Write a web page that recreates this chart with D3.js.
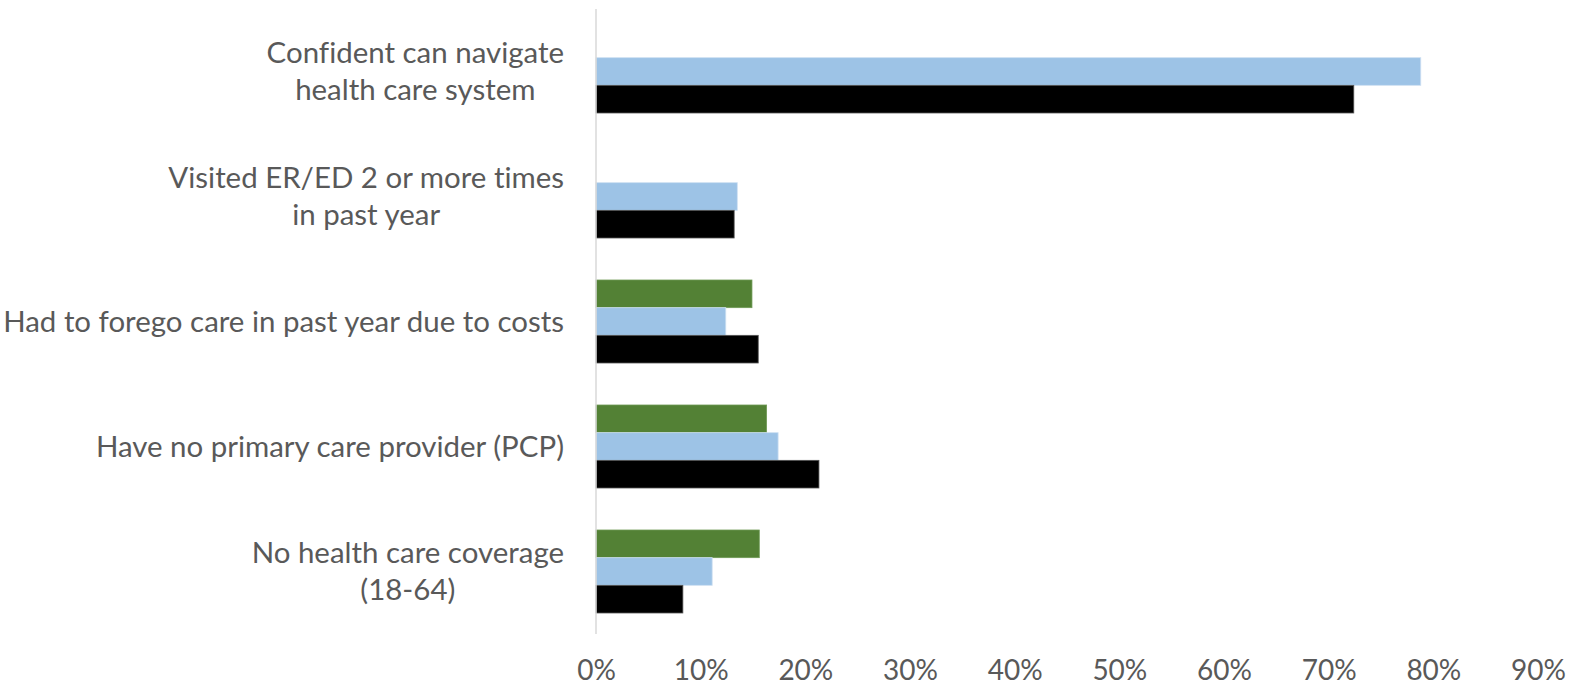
<!DOCTYPE html>
<html><head><meta charset="utf-8">
<script src="https://cdn.jsdelivr.net/npm/d3@7"></script>
<style>body{margin:0;background:#fff}svg{display:block}text{font-family:Lato,"Open Sans",sans-serif;fill:#595959;font-variant-ligatures:none;font-feature-settings:"liga" 0,"clig" 0}</style>
</head><body><svg id="c" width="1583" height="689"></svg>
<script>
const categories = [
  ["Confident can navigate", "health care system"],
  ["Visited ER/ED 2 or more times", "in past year"],
  ["Had to forego care in past year due to costs"],
  ["Have no primary care provider (PCP)"],
  ["No health care coverage", "(18-64)"]
];
const seriesNames = ["Series A", "Series B", "Series C"];
const seriesColors = ["#538135", "#9DC3E6", "#000000"];
const greenValues = [null, null, 0.149, 0.163, 0.156];
const blueValues  = [0.788, 0.135, 0.124, 0.174, 0.111];
const blackValues = [0.724, 0.132, 0.155, 0.213, 0.083];
const tickValues = [0, 0.1, 0.2, 0.3, 0.4, 0.5, 0.6, 0.7, 0.8, 0.9];

const series = [greenValues, blueValues, blackValues];
const svg = d3.select("#c");
const x = d3.scaleLinear().domain([0, 0.9]).range([596, 1538]);
const y = d3.scaleBand().domain(d3.range(categories.length)).range([9, 634]).paddingInner(0.336).paddingOuter(0.168);
const ySub = d3.scaleBand().domain(d3.range(series.length)).range([0, y.bandwidth()]);

const g = svg.append("g");
categories.forEach((c, i) => {
  series.forEach((vals, s) => {
    const v = vals[i];
    if (v == null) return;
    g.append("rect")
      .attr("x", x(0)).attr("y", y(i) + ySub(s))
      .attr("width", x(v) - x(0)).attr("height", ySub.bandwidth())
      .attr("fill", seriesColors[s])
      .attr("stroke", s === 2 ? "#555" : (s === 1 ? "#cfe0f2" : "#6f9a55"))
      .attr("stroke-width", 0.8);
  });
});

svg.append("line").attr("x1", x(0)).attr("x2", x(0)).attr("y1", y.range()[0]).attr("y2", y.range()[1])
  .attr("stroke", "#d9d9d9").attr("stroke-width", 1.5);

const xAxis = d3.axisBottom(x).tickValues(tickValues).tickFormat(d3.format(".0%")).tickSize(0).tickPadding(0);
const ax = svg.append("g").attr("transform", "translate(0,670)").call(xAxis);
ax.select(".domain").remove();
ax.selectAll("text").attr("font-size", 28).attr("fill", "#595959").attr("dy", "0.35em")
  .style("font-family", "Lato, 'Open Sans', sans-serif");

const rightX = 564;
const targetW = 561;
const probe = svg.append("text").attr("font-size", 100).text(categories[2][0]);
const fs = 100 * targetW / probe.node().getComputedTextLength();
probe.remove();
const lineH = 37;
categories.forEach((lines, i) => {
  const cy = y(i) + y.bandwidth() / 2;
  const tg = svg.append("g");
  const texts = lines.map((l, k) => tg.append("text").attr("font-size", fs).text(l)
    .attr("y", cy + (k - (lines.length - 1) / 2) * lineH).attr("dy", "0.35em"));
  const widths = texts.map(t => t.node().getComputedTextLength());
  const mw = Math.max(...widths);
  texts.forEach(t => t.attr("text-anchor", "middle").attr("x", rightX - mw / 2));
});
</script></body></html>
